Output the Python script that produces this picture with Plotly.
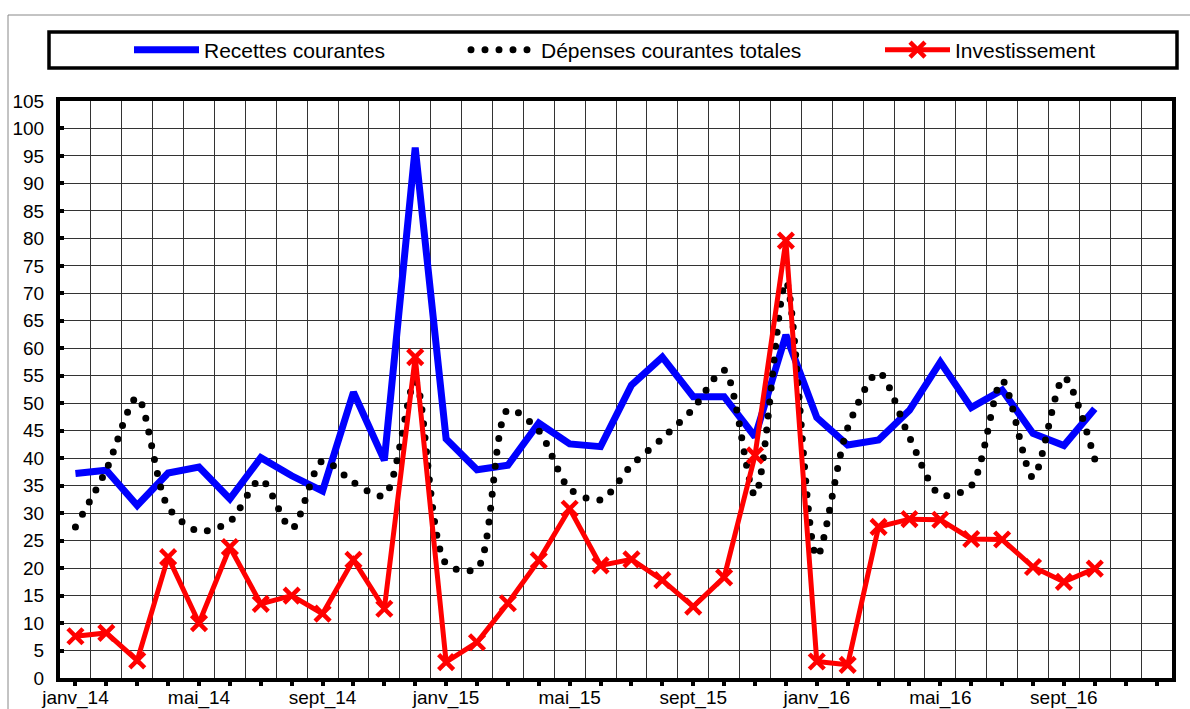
## Import packages:
# ============================================================================
import plotly.graph_objects as go

## Data:
# ============================================================================
mois = ['janv', 'févr', 'mars', 'avr', 'mai', 'juin',
        'juil', 'août', 'sept', 'oct', 'nov', 'déc']
annees = ['14', '15', '16']
categories = [f"{m}_{a}" for a in annees for m in mois]

recettes = [37.2, 37.8, 31.4, 37.3, 38.4, 32.6, 40.1, 36.8, 34.0, 52.0,
            39.6, 96.5, 43.5, 37.9, 38.7, 46.4, 42.6, 42.1, 53.3, 58.4,
            51.2, 51.2, 43.9, 62.4, 47.4, 42.4, 43.3, 48.7, 57.5, 49.2,
            52.4, 44.5, 42.3, 49.0]

depenses = [27.5, 37.9, 51.1, 31.1, 26.7, 28.5, 36.1, 27.2, 39.5, 35.6,
            33.2, 54.0, 20.8, 19.9, 48.8, 45.0, 34.4, 32.4, 38.7, 43.6,
            49.0, 56.0, 33.3, 72.1, 22.1, 45.5, 55.6, 43.8, 33.3, 35.0,
            54.1, 36.5, 54.7, 39.8]

investissement = [7.6, 8.2, 3.2, 22.0, 10.0, 23.8, 13.5, 15.0, 11.7, 21.5,
                  12.6, 58.4, 2.9, 6.5, 13.6, 21.4, 30.8, 20.5, 21.6, 17.8,
                  13.0, 18.3, 40.5, 79.6, 3.0, 2.4, 27.5, 28.9, 28.8, 25.3,
                  25.2, 20.2, 17.5, 19.9]

# labels only every 4 months
tick_labels = [c if i % 4 == 0 else '' for i, c in enumerate(categories)]

## Layout helpers (pixels -> paper):
# ============================================================================
W, H = 1190, 709
L, R, T, B = 60, 1172, 101, 678

def px(x):
    return (x - L) / (R - L)

def py(y):
    return (B - y) / (B - T)

font = "Liberation Sans, Arial, sans-serif"

## Figure:
# ============================================================================
fig = go.Figure()

fig.add_trace(go.Scatter(
    x=categories[:len(recettes)], y=recettes,
    name='Recettes courantes',
    mode='lines',
    line=dict(color='#0000FF', width=7),
    legend='legend',
))

fig.add_trace(go.Scatter(
    x=categories[:len(depenses)], y=depenses,
    name='Dépenses courantes totales',
    mode='lines',
    line=dict(color='black', width=7, dash='0px,14px', shape='spline', smoothing=0.8),
    legend='legend2',
))

fig.add_trace(go.Scatter(
    x=categories[:len(investissement)], y=investissement,
    name='Investissement',
    mode='lines+markers',
    line=dict(color='#FF0000', width=5),
    marker=dict(symbol='x-thin', size=15, color='#FF0000',
                line=dict(color='#FF0000', width=4.5)),
    legend='legend3',
))

# empty trace for the overlay axis carrying the vertical gridlines
fig.add_trace(go.Scatter(x=[], y=[], xaxis='x2', showlegend=False, hoverinfo='none'))

leg = dict(orientation='h', yanchor='middle', y=py(50), xanchor='left',
           bgcolor='rgba(0,0,0,0)', itemwidth=65,
           font=dict(family=font, size=21, color='black'))

fig.update_layout(
    width=W, height=H,
    margin=dict(l=L, r=W - R, t=T, b=H - B, autoexpand=False),
    showlegend=True,
    paper_bgcolor='white', plot_bgcolor='white',
    font=dict(family=font, color='black'),
    legend=dict(leg, x=px(129)),
    legend2=dict(leg, x=px(466)),
    legend3=dict(leg, x=px(880)),
    xaxis=dict(
        type='category',
        categoryorder='array', categoryarray=categories,
        range=[-0.5, len(categories) - 0.5],
        tickvals=categories, ticktext=tick_labels,
        showgrid=False,
        ticks='outside', ticklen=4, tickwidth=4, tickcolor='black',
        tickfont=dict(size=19, family=font),
        ticklabelstandoff=-5,
        showline=True, linecolor='black', linewidth=4, mirror=True,
        zeroline=False,
    ),
    xaxis2=dict(
        overlaying='x', anchor='y', side='bottom',
        range=[-0.5, len(categories) - 0.5],
        tick0=0.5, dtick=1,
        showgrid=True, gridcolor='#333', gridwidth=1,
        showticklabels=False, ticks='', showline=False, zeroline=False,
    ),
    yaxis=dict(
        range=[0, 105], dtick=5,
        showgrid=True, gridcolor='#333', gridwidth=1,
        ticks='inside', ticklen=4, tickwidth=4, tickcolor='black',
        tickfont=dict(size=19, family=font),
        ticklabelstandoff=8,
        showline=True, linecolor='black', linewidth=4, mirror=True,
        zeroline=False,
    ),
    shapes=[
        # chart border
        dict(type='rect', xref='paper', yref='paper',
             x0=px(8), x1=px(1210), y0=py(15), y1=py(730),
             line=dict(color='#888', width=1)),
        # legend frame
        dict(type='rect', xref='paper', yref='paper',
             x0=px(49), x1=px(1177), y0=py(32), y1=py(68),
             line=dict(color='black', width=3.5)),
    ],
)

# no page margin, and round caps so the dash pattern gives round dots
post = """
document.body.style.margin = '0';
document.querySelectorAll('path').forEach(function(p){
  var d = p.style.strokeDasharray;
  if (d && d !== 'none' && d !== '') { p.style.strokeLinecap = 'round'; }
});
"""

fig.write_html("out.html", post_script=post, config={'displayModeBar': False})
